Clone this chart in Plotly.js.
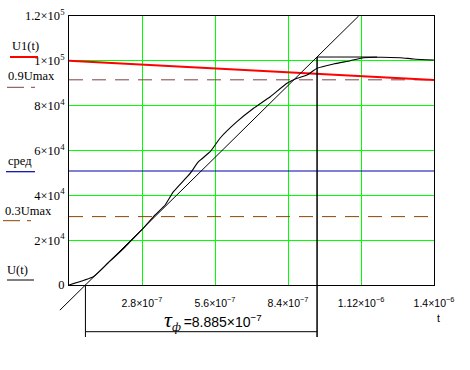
<!DOCTYPE html>
<html><head><meta charset="utf-8">
<script src="https://cdn.plot.ly/plotly-3.0.1.min.js"></script>
<style>html,body{margin:0;padding:0;background:#fff}#chart{width:470px;height:370px}</style>
</head><body><div id="chart"></div>
<script>
// ---- data ----
const tU = [0, 9.33e-8, 1.498e-7, 2.151e-7, 2.408e-7, 2.792e-7, 3.303e-7, 3.687e-7, 4.006e-7, 4.647e-7, 4.966e-7, 5.416e-7, 5.8e-7, 6.441e-7, 7.079e-7, 7.72e-7, 8.361e-7, 8.746e-7, 9.13e-7, 9.514e-7, 1.0151e-6, 1.0793e-6, 1.1304e-6, 1.1818e-6, 1.2713e-6, 1.3224e-6, 1.3992e-6];
const vU = [0, 3700, 9810, 16950, 20080, 24540, 31230, 35690, 41620, 49830, 55000, 59470, 65580, 72850, 78830, 84000, 89980, 92210, 93680, 96670, 98590, 100060, 101400, 101580, 101400, 100820, 100370];
const tU1 = [0, 1.4e-6];
const vU1 = [100000, 91500];
const Umax = 101700;
const levelNames = ['0.9Umax', 'сред', '0.3Umax'];
const levelFactors = [0.9, 0.5, 0.3];
const t0 = 6.3e-8;
const tauF = 8.885e-7;
const tPeak = 1.1818e-6;
const tangentT = [-3.5e-8, 1.111e-6];
const tangentV = [-11220, 120000];
const xRange = [0, 1.4e-6];
const yRange = [0, 1.2e5];
const xTickVals = [2.8e-7, 5.6e-7, 8.4e-7, 1.12e-6, 1.4e-6];
const xTickText = ['2.8×10<sup>−7</sup>', '5.6×10<sup>−7</sup>', '8.4×10<sup>−7</sup>', '1.12×10<sup>−6</sup>', '1.4×10<sup>−6</sup>'];
const yTickVals = [0, 2e4, 4e4, 6e4, 8e4, 1e5, 1.2e5];
const yTickText = ['0', '2×10<sup>4</sup>', '4×10<sup>4</sup>', '6×10<sup>4</sup>', '8×10<sup>4</sup>', '1×10<sup>5</sup>', '1.2×10<sup>5</sup>'];
const tauLabel = '<span style="font-family:Liberation Serif;font-size:22px"><i>τ</i></span><span style="font-family:Liberation Serif;font-size:18px"><sub><i>ф</i></sub></span>&#8201;=8.885×10<sup>−7</sup>';

// ---- styles ----
const levelColors = ['#7f4040', '#0000a8', '#8a4500'];
const levelDash = ['14px,9px', 'solid', '14px,9px'];
const serif = 'Liberation Serif';
const sans = 'Liberation Sans';

const t1 = t0 + tauF;
const traces = [];
levelFactors.forEach((f, i) => {
  traces.push({x: xRange, y: [f * Umax, f * Umax], mode: 'lines', name: levelNames[i],
    line: {color: levelColors[i], width: 1, dash: levelDash[i]}});
});
traces.push({x: tU1, y: vU1, mode: 'lines', name: 'U1(t)', line: {color: '#ff0000', width: 2}});
traces.push({x: tangentT, y: tangentV, mode: 'lines', name: 'tangent', line: {color: '#000', width: 1}});
traces.push({x: tU, y: vU, mode: 'lines', name: 'U(t)', line: {color: '#000', width: 1.1, shape: 'spline', smoothing: 0.4}});
traces.push({x: [t1, t1], y: [0, Umax], mode: 'lines', line: {color: '#000', width: 1.5}});
traces.push({x: [t1, tPeak], y: [Umax, Umax], mode: 'lines', line: {color: '#000', width: 1}});

const L = 69, T = 16, W = 365, H = 269;
const px = X => (X - L) / W;
const py = Y => (T + H - Y) / H;

const shapes = [
  // tangent extension below the axis (paper coords from the data arrays)
  {type: 'line', xref: 'paper', yref: 'paper', x0: (tangentT[0] - xRange[0]) / (xRange[1] - xRange[0]),
   y0: (tangentV[0] - yRange[0]) / (yRange[1] - yRange[0]), x1: (t0 - xRange[0]) / (xRange[1] - xRange[0]), y1: 0,
   line: {color: '#000', width: 1}},
  // dimension marks for tau
  {type: 'line', xref: 'x', yref: 'paper', x0: t0, x1: t0, y0: 0, y1: py(337), line: {color: '#000', width: 1}},
  {type: 'line', xref: 'x', yref: 'paper', x0: t1, x1: t1, y0: 0, y1: py(337), line: {color: '#000', width: 1.5}},
  {type: 'line', xref: 'x', yref: 'paper', x0: t0, x1: t1, y0: py(331.7), y1: py(331.7), line: {color: '#000', width: 1}},
  // legend samples
  {type: 'line', xref: 'paper', yref: 'paper', x0: px(10), x1: px(38), y0: py(57), y1: py(57), line: {color: '#ff0000', width: 2}},
  {type: 'line', xref: 'paper', yref: 'paper', x0: px(7), x1: px(35), y0: py(87.3), y1: py(87.3), line: {color: levelColors[0], width: 1, dash: '17px,7px'}},
  {type: 'line', xref: 'paper', yref: 'paper', x0: px(6), x1: px(35), y0: py(171.7), y1: py(171.7), line: {color: levelColors[1], width: 1.2}},
  {type: 'line', xref: 'paper', yref: 'paper', x0: px(3), x1: px(31), y0: py(220.7), y1: py(220.7), line: {color: levelColors[2], width: 1, dash: '17px,7px'}},
  {type: 'line', xref: 'paper', yref: 'paper', x0: px(7), x1: px(34), y0: py(280), y1: py(280), line: {color: '#000', width: 1}}
];

const legendTexts = [['U1(t)', 11, 46], [levelNames[0], 7, 76], [levelNames[1], 7, 161], [levelNames[2], 4, 211], ['U(t)', 6, 270]];
const annotations = legendTexts.map(([txt, X, Y]) => ({
  text: txt, xref: 'paper', yref: 'paper', x: px(X), y: py(Y), xanchor: 'left', yanchor: 'middle',
  showarrow: false, borderpad: 0, font: {family: serif, size: 12.5, color: '#000'}
}));
annotations.push({text: 't', xref: 'paper', yref: 'paper', x: px(438), y: py(318), xanchor: 'center', yanchor: 'middle',
  showarrow: false, font: {family: sans, size: 10.5, color: '#000'}});
annotations.push({text: tauLabel, xref: 'paper', yref: 'paper', x: px(163), y: py(320), xanchor: 'left', yanchor: 'middle',
  showarrow: false, borderpad: 0, font: {family: sans, size: 14, color: '#000'}});

const layout = {
  width: 470, height: 370,
  margin: {l: L, r: 470 - L - W, t: T, b: 370 - T - H},
  paper_bgcolor: '#fff', plot_bgcolor: '#fff',
  showlegend: false,
  xaxis: {range: xRange, tickvals: xTickVals, ticktext: xTickText, ticks: '', showgrid: true, gridcolor: '#00ff00', gridwidth: 1,
    zeroline: false, showline: true, mirror: true, linecolor: '#000', linewidth: 1, ticklabelstandoff: 8,
    tickfont: {family: sans, size: 10.5, color: '#000'}},
  yaxis: {range: yRange, tickvals: yTickVals, ticktext: yTickText, ticks: '', showgrid: true, gridcolor: '#00ff00', gridwidth: 1,
    zeroline: false, showline: true, mirror: true, linecolor: '#000', linewidth: 1, ticklabelstandoff: 1,
    tickfont: {family: serif, size: 12.5, color: '#000'}},
  shapes: shapes,
  annotations: annotations
};
Plotly.newPlot('chart', traces, layout, {displayModeBar: false, staticPlot: true});
</script>
</body></html>
